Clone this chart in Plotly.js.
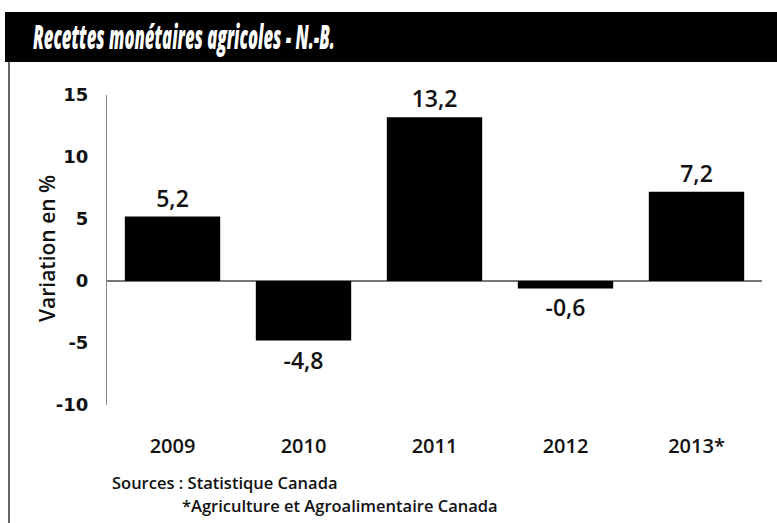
<!DOCTYPE html>
<html>
<head>
<meta charset="utf-8">
<script src="https://cdn.plot.ly/plotly-3.0.1.min.js"></script>
<style>
html,body{margin:0;padding:0;background:#fff;}
#chart{width:777px;height:523px;}
</style>
</head>
<body>
<div id="chart"></div>
<script>
var years = ['2009', '2010', '2011', '2012', '2013*'];
var values = [5.2, -4.8, 13.2, -0.6, 7.2];
var valueLabels = ['5,2', '-4,8', '13,2', '-0,6', '7,2'];
var yTickVals = [-10, -5, 0, 5, 10, 15];
var yTickText = ['-10', '-5', '0', '5', '10', '15'];
var titleText = 'Recettes monétaires agricoles - N.-B.';
var yTitleText = 'Variation en %';
var sourceLine1 = 'Sources : Statistique Canada';
var sourceLine2 = '*Agriculture et Agroalimentaire Canada';

var W = 777, H = 523;
var M = {l: 107, r: 15, t: 95, b: 118};
var pw = W - M.l - M.r, ph = H - M.t - M.b;
function px2x(p){ return (p - M.l) / pw; }
function px2y(p){ return (H - M.b - p) / ph; }

var labelFont = 'Open Sans, Noto Sans, sans-serif';

var trace = {
  type: 'bar',
  x: years,
  y: values,
  text: valueLabels,
  textposition: 'outside',
  textfont: {family: labelFont, size: 23, color: '#111', weight: 600},
  cliponaxis: false,
  marker: {color: '#000', line: {width: 0}},
  hoverinfo: 'skip'
};

var layout = {
  width: W, height: H,
  margin: M,
  paper_bgcolor: '#fff',
  plot_bgcolor: '#fff',
  showlegend: false,
  bargap: 0.272,
  title: {
    text: titleText,
    font: {family: labelFont, size: 33, color: '#fff', weight: 800, style: 'italic'},
    x: 33 / W, xanchor: 'left', xref: 'container',
    y: 1 - 37 / H, yanchor: 'middle', yref: 'container'
  },
  xaxis: {
    type: 'category',
    range: [-0.5, 4.5],
    showline: false, showgrid: false, zeroline: false,
    ticks: '',
    ticklabelstandoff: 27,
    tickfont: {family: labelFont, size: 20, color: '#111', weight: 600}
  },
  yaxis: {
    range: [-10, 15],
    tickvals: yTickVals,
    ticktext: yTickText,
    showgrid: false,
    zeroline: true, zerolinecolor: '#777', zerolinewidth: 1.5,
    showline: true, linecolor: '#888', linewidth: 1,
    ticks: '',
    ticklabelstandoff: 14,
    tickfont: {family: 'DejaVu Sans, sans-serif', size: 18, color: '#111', weight: 'bold'}
  },
  shapes: [
    {type: 'rect', xref: 'paper', yref: 'paper', layer: 'below',
     x0: px2x(5), x1: px2x(777), y0: px2y(62), y1: px2y(12),
     fillcolor: '#000', line: {width: 0}},
    {type: 'line', xref: 'paper', yref: 'paper',
     x0: px2x(9), x1: px2x(9), y0: px2y(62), y1: px2y(523),
     line: {color: '#666', width: 2}}
  ],
  annotations: [
    {text: yTitleText, xref: 'paper', yref: 'paper', x: px2x(47), y: px2y(249),
     xanchor: 'center', yanchor: 'middle', textangle: -90, showarrow: false,
     font: {family: labelFont, size: 21, color: '#111', weight: 600}},
    {text: sourceLine1, xref: 'paper', yref: 'paper', x: px2x(110), y: px2y(483),
     xanchor: 'left', yanchor: 'middle', showarrow: false,
     font: {family: labelFont, size: 16.5, color: '#111', weight: 600}},
    {text: sourceLine2, xref: 'paper', yref: 'paper', x: px2x(180), y: px2y(506),
     xanchor: 'left', yanchor: 'middle', showarrow: false,
     font: {family: labelFont, size: 16.5, color: '#111', weight: 600}}
  ]
};

Plotly.newPlot('chart', [trace], layout, {displayModeBar: false, staticPlot: true}).then(function(gd){
  // condense the title horizontally to match the narrow heading face
  var t = gd.querySelector('.gtitle');
  if (t && t.getComputedTextLength) {
    var w = t.getComputedTextLength();
    var x0 = parseFloat(t.getAttribute('x')) || 0;
    var target = 302;
    if (w > 0) {
      var s = target / w;
      t.setAttribute('transform', 'translate(' + x0 + ',0) scale(' + s + ',1) translate(' + (-x0) + ',0)');
    }
  }
});
</script>
</body>
</html>
